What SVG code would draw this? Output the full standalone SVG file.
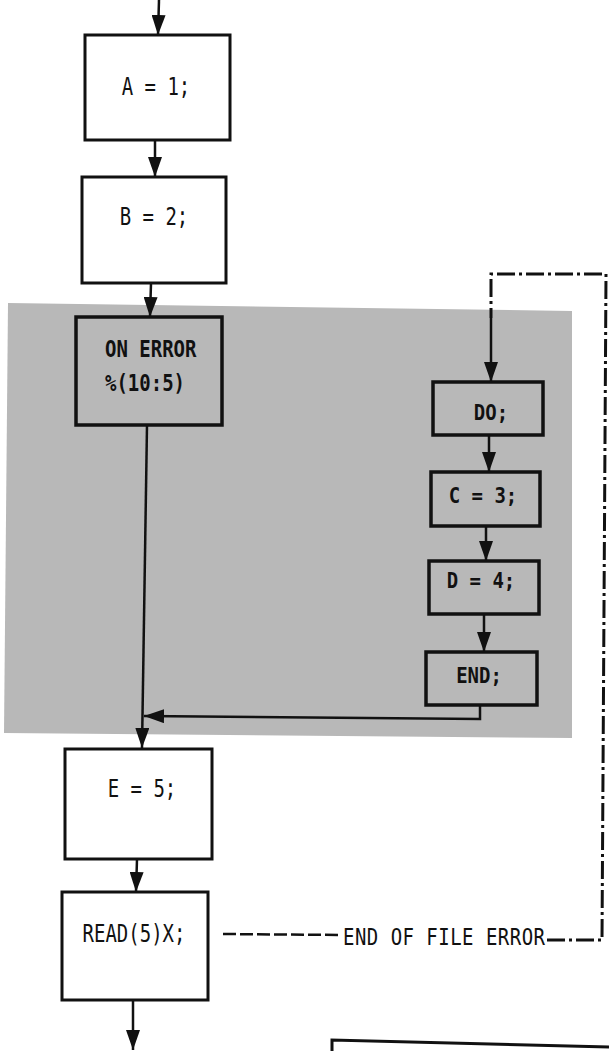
<svg xmlns="http://www.w3.org/2000/svg" width="609" height="1051" viewBox="0 0 609 1051">
<style>
.box{fill:none;stroke:#111;stroke-width:3}
.gbox{fill:none;stroke:#111;stroke-width:3.5}
.t{font-family:"DejaVu Sans Mono","Liberation Mono",monospace;font-size:19px;fill:#111}
.tb{font-family:"DejaVu Sans Mono","Liberation Mono",monospace;font-size:19px;fill:#111;font-weight:bold}
.ln{fill:none;stroke:#111;stroke-width:2.5}
.dash{fill:none;stroke:#111;stroke-width:2.5;stroke-dasharray:13 4}
.dashdot{fill:none;stroke:#111;stroke-width:3;stroke-dasharray:18 4 3 4}
</style>
<defs>
<marker id="ah" viewBox="0 0 20 14" refX="20" refY="7" markerWidth="20" markerHeight="14" markerUnits="userSpaceOnUse" orient="auto">
<path d="M0,0 L20,7 L0,14 Z" fill="#111"/>
</marker>
</defs>
<rect width="609" height="1051" fill="#fff"/>
<polygon id="shaded-region" points="8,303 572,311 572,738 4,733" fill="#b8b8b8"/>
<g id="connectors">
<path class="ln" d="M159,0 L158,35" marker-end="url(#ah)"/>
<path class="ln" d="M155,140 L155,177" marker-end="url(#ah)"/>
<path class="ln" d="M151,283 L150,317" marker-end="url(#ah)"/>
<path class="ln" d="M147,425 L142,748" marker-end="url(#ah)"/>
<path class="ln" d="M480,705 L480,719 L144,716" marker-end="url(#ah)"/>
<path class="ln" d="M489,435 L489,472" marker-end="url(#ah)"/>
<path class="ln" d="M486,527 L486,561" marker-end="url(#ah)"/>
<path class="ln" d="M484,614 L484,652" marker-end="url(#ah)"/>
<path class="ln" d="M137,859 L136,892" marker-end="url(#ah)"/>
<path class="ln" d="M133,1000 L133,1050" marker-end="url(#ah)"/>
<path class="dash" d="M223,934 L340,935"/>
<path class="dashdot" d="M547,940 L602,940 L606,274 L491,274 L491,318"/>
<path class="ln" stroke-width="3" d="M491,318 L491,382" marker-end="url(#ah)"/>
<text class="t" transform="translate(343,945) scale(1,1.25)" textLength="202">END OF FILE ERROR</text>
</g>
<g id="node-a">
<rect class="box" x="85" y="35" width="145" height="105"/>
<text class="t" transform="translate(156,95) scale(1,1.3)" text-anchor="middle">A = 1;</text>
</g>
<g id="node-b">
<rect class="box" x="82" y="177" width="144" height="106"/>
<text class="t" transform="translate(154,225) scale(1,1.3)" text-anchor="middle">B = 2;</text>
</g>
<g id="node-on-error">
<rect class="gbox" x="76" y="317" width="146" height="108"/>
<text class="tb" transform="translate(105,357) scale(1,1.25)">ON ERROR</text>
<text class="tb" transform="translate(105,391) scale(1,1.25)">%(10:5)</text>
</g>
<g id="node-do">
<rect class="gbox" x="433" y="382" width="110" height="53"/>
<text class="tb" transform="translate(491,420) scale(1,1.15)" text-anchor="middle">DO;</text>
</g>
<g id="node-c">
<rect class="gbox" x="431" y="472" width="109" height="54"/>
<text class="tb" transform="translate(483,503) scale(1,1.15)" text-anchor="middle">C = 3;</text>
</g>
<g id="node-d">
<rect class="gbox" x="429" y="561" width="110" height="53"/>
<text class="tb" transform="translate(481,588) scale(1,1.15)" text-anchor="middle">D = 4;</text>
</g>
<g id="node-end">
<rect class="gbox" x="426" y="652" width="111" height="53"/>
<text class="tb" transform="translate(479,683) scale(1,1.15)" text-anchor="middle">END;</text>
</g>
<g id="node-e">
<rect class="box" x="65" y="749" width="147" height="110"/>
<text class="t" transform="translate(142,797) scale(1,1.3)" text-anchor="middle">E = 5;</text>
</g>
<g id="node-read">
<rect class="box" x="62" y="892" width="146" height="108"/>
<text class="t" transform="translate(134,942) scale(1,1.3)" text-anchor="middle">READ(5)X;</text>
</g>
<g id="node-partial">
<path class="box" d="M332,1051 L332,1040 L609,1047"/>
</g>
</svg>
